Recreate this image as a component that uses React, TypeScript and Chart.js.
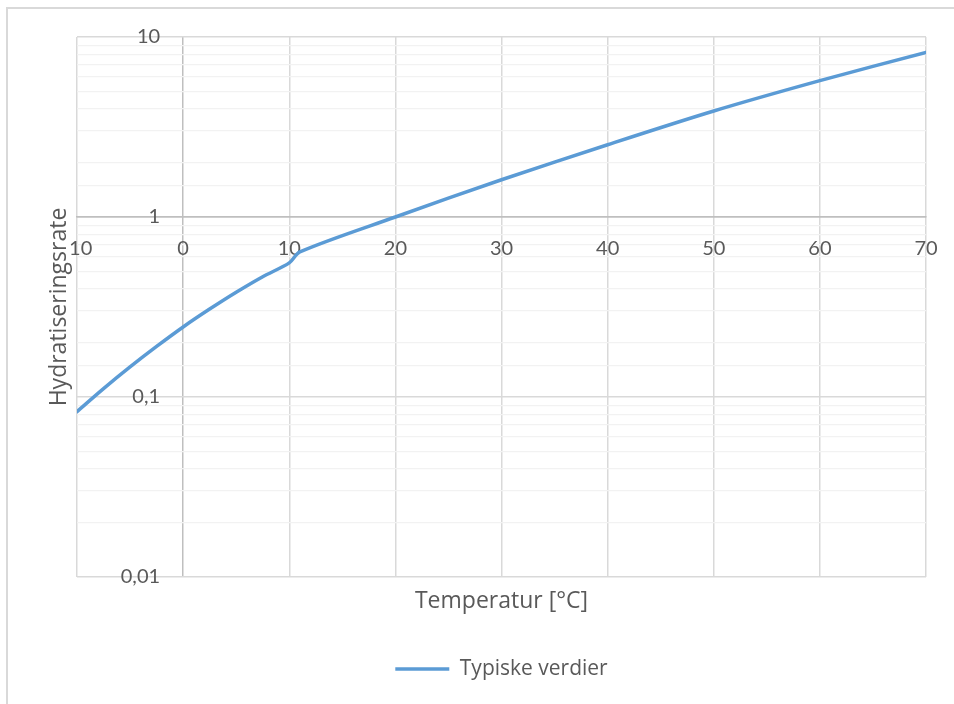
import React, { useEffect, useRef } from 'react';
import { Chart, registerables } from 'chart.js';

Chart.register(...registerables);

const temperatures = [-10, -7.5, -5, -2.5, 0, 2.5, 5, 7.5, 10, 11, 20, 30, 40, 50, 60, 70];
const rates = [0.083, 0.1114, 0.147, 0.191, 0.245, 0.308, 0.382, 0.466, 0.556, 0.64, 1.0, 1.61, 2.52, 3.88, 5.72, 8.22];
const xTicks = [-10, 0, 10, 20, 30, 40, 50, 60, 70];
const yMin = 0.01;
const yMax = 10;
const xCross = 0; // value on x where the vertical axis crosses
const yCross = 1; // value on y where the horizontal axis crosses
const seriesLabel = 'Typiske verdier';
const xTitle = 'Temperatur [°C]';
const yTitle = 'Hydratiseringsrate';

const TICK_FONT = 'Lato, "Open Sans", sans-serif';
const TITLE_FONT = '"Open Sans", Lato, sans-serif';
const TEXT = '#595959';
const AXIS_LINE = '#bfbfbf';
const MAJOR = '#d9d9d9';
const MINOR = '#f2f2f2';

const isMajor = (v: number) => {
  const l = Math.log10(v);
  return Math.abs(l - Math.round(l)) < 1e-9;
};

const yTitlePlugin = {
  id: 'yTitlePlugin',
  afterDraw(chart: any) {
    const { ctx, chartArea } = chart;
    const size = 23;
    ctx.save();
    ctx.font = `${size}px ${TITLE_FONT}`;
    const w = ctx.measureText(yTitle).width;
    const cx = 59;
    const cy = (chartArea.top + chartArea.bottom) / 2;
    ctx.translate(cx, cy);
    ctx.rotate(-Math.PI / 2);
    ctx.fillStyle = '#ffffff';
    ctx.fillRect(-w / 2 - 2, -size / 2, w + 4, size);
    ctx.fillStyle = TEXT;
    ctx.textAlign = 'center';
    ctx.textBaseline = 'middle';
    ctx.fillText(yTitle, 0, 0);
    ctx.restore();
  },
};

export default function App() {
  const canvasRef = useRef<HTMLCanvasElement | null>(null);

  useEffect(() => {
    if (!canvasRef.current) return;
    const chart = new Chart(canvasRef.current, {
      type: 'line',
      data: {
        datasets: [
          {
            label: seriesLabel,
            data: temperatures.map((t, i) => ({ x: t, y: rates[i] })),
            borderColor: '#5b9bd5',
            backgroundColor: '#5b9bd5',
            borderWidth: 3.5,
            pointRadius: 0,
            tension: 0.3,
            borderJoinStyle: 'round',
            borderCapStyle: 'round',
            fill: false,
          },
        ],
      },
      options: {
        animation: false,
        responsive: false,
        maintainAspectRatio: false,
        layout: { padding: { left: 77, top: 37, right: 28, bottom: 14.5 } },
        plugins: {
          legend: {
            display: true,
            position: 'bottom',
            labels: {
              usePointStyle: true,
              pointStyle: 'line',
              pointStyleWidth: 54,
              color: TEXT,
              font: { family: TITLE_FONT, size: 21 },
              padding: 10,
            },
          },
          tooltip: { enabled: false },
        },
        scales: {
          x: {
            type: 'linear',
            min: xTicks[0],
            max: xTicks[xTicks.length - 1],
            position: { y: yCross } as any,
            afterBuildTicks: (scale: any) => {
              scale.ticks = xTicks.map((v) => ({ value: v }));
            },
            ticks: {
              color: TEXT,
              font: { family: TICK_FONT, size: 20, lineHeight: 2 },
              padding: 12,
              maxRotation: 0,
              autoSkip: false,
              callback: (v: any) => String(v),
            },
            grid: {
              drawTicks: false,
              color: (c: any) => (c.tick && c.tick.value === xCross ? AXIS_LINE : MAJOR),
              lineWidth: 1.5,
            },
            border: { display: true, color: AXIS_LINE, width: 1.5 },
          },
          x2: {
            type: 'linear',
            axis: 'x',
            position: 'bottom',
            display: true,
            ticks: { display: false },
            grid: { display: false, drawTicks: false },
            border: { display: false },
            title: {
              display: true,
              text: xTitle,
              color: TEXT,
              font: { family: TITLE_FONT, size: 23, lineHeight: 1.2 },
              padding: { top: 10.2, bottom: 33.7 },
            },
          },
          y: {
            type: 'logarithmic',
            min: yMin,
            max: yMax,
            position: { x: xCross - 2.17 } as any,
            ticks: {
              color: TEXT,
              font: { family: TICK_FONT, size: 20 },
              padding: 0,
              autoSkip: false,
              callback: (v: any) => {
                const n = Number(v);
                if (!isMajor(n)) return '';
                return String(n).replace('.', ',');
              },
            },
            grid: {
              drawTicks: false,
              color: (c: any) => {
                if (!c.tick) return MINOR;
                if (Math.abs(c.tick.value - yCross) < 1e-9) return AXIS_LINE;
                return isMajor(c.tick.value) ? MAJOR : MINOR;
              },
              lineWidth: (c: any) => (c.tick && isMajor(c.tick.value) ? 1.5 : 1.3),
            },
            border: { display: false },
          },
        },
      } as any,
      plugins: [yTitlePlugin],
    });
    return () => chart.destroy();
  }, []);

  return (
    <div style={{ position: 'fixed', left: 0, top: 0, width: 954, height: 704, overflow: 'hidden', background: '#ffffff' }}>
      <div
        style={{
          position: 'absolute',
          left: 6,
          top: 7,
          width: 1200,
          height: 1200,
          borderLeft: '2px solid #d9d9d9',
          borderTop: '2px solid #d9d9d9',
        }}
      />
      <canvas ref={canvasRef} width={954} height={704} style={{ position: 'absolute', left: 0, top: 0, display: 'block' }} />
    </div>
  );
}
